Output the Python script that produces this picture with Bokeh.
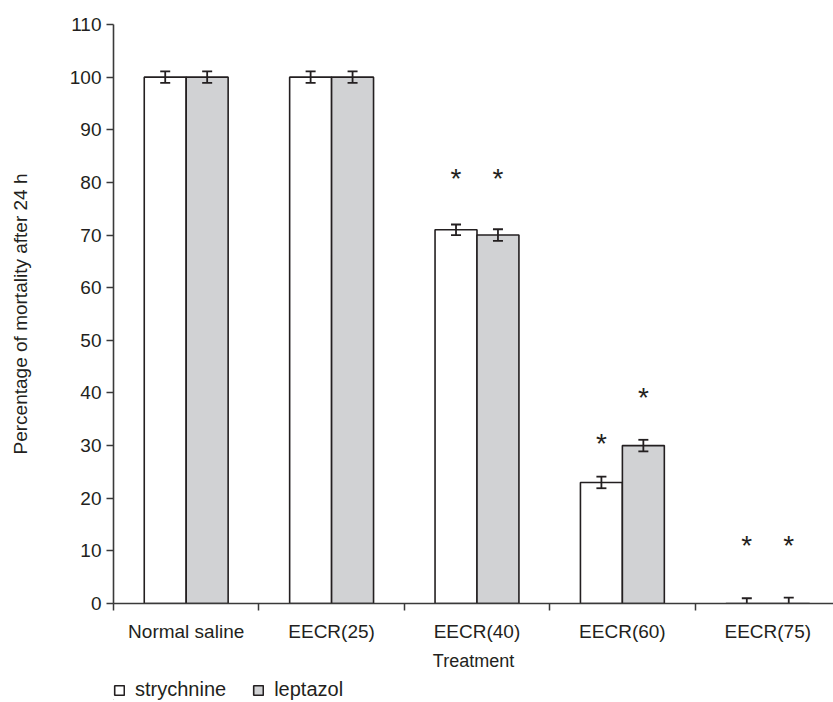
import numpy as np
from bokeh.plotting import figure
from bokeh.layouts import column
from bokeh.models import Range1d, FixedTicker, Legend, LegendItem, ColumnDataSource
from bokeh.core.properties import value
from bokeh.embed import file_html
from bokeh.resources import INLINE

# ---- data ----
categories = ["Normal saline", "EECR(25)", "EECR(40)", "EECR(60)", "EECR(75)"]
strychnine = [100, 100, 71, 23, 0]
leptazol = [100, 100, 70, 30, 0]
strychnine_err = [1.1, 1.1, 1.0, 1.1, 1.0]
leptazol_err = [1.1, 1.1, 1.1, 1.1, 1.1]
# significance asterisks (value where the star is drawn; nan = none)
strychnine_star = [np.nan, np.nan, 81.2, 30.8, 11.4]
leptazol_star = [np.nan, np.nan, 81.2, 39.5, 11.4]
y_ticks = list(range(0, 111, 10))
series_names = ["strychnine", "leptazol"]

FONT = "Liberation Sans"
TXT = "#231f20"
AX = "#3a3a3a"
GRAY = "#d1d2d4"
BW = 0.2885

centers = np.arange(len(categories)) + 0.5
xs = centers - BW / 2
xl = centers + BW / 2

p = figure(width=833, height=678, output_backend="svg", toolbar_location=None,
           x_range=Range1d(0, 4.952), y_range=Range1d(0, 110),
           min_border_left=112, min_border_right=0, min_border_top=24,
           min_border_bottom=75)
p.outline_line_color = None
p.xgrid.visible = False
p.ygrid.visible = False

rs = p.vbar(x=xs, top=strychnine, bottom=0, width=BW, fill_color="white",
            line_color=TXT, line_width=1.6)
rl = p.vbar(x=xl, top=leptazol, bottom=0, width=BW, fill_color=GRAY,
            line_color=TXT, line_width=1.6)

# error bars
for x, v, e in ((xs, strychnine, strychnine_err), (xl, leptazol, leptazol_err)):
    v = np.array(v, dtype=float)
    e = np.array(e, dtype=float)
    p.segment(x0=x, x1=x, y0=v - e, y1=v + e, line_color=TXT, line_width=1.8)
    p.scatter(x=np.concatenate([x, x]), y=np.concatenate([v - e, v + e]),
              marker="dash", size=10, line_color=TXT, line_width=1.8)

# asterisks
for x, s in ((xs, strychnine_star), (xl, leptazol_star)):
    s = np.array(s, dtype=float)
    m = ~np.isnan(s)
    src = ColumnDataSource(dict(x=x[m], y=s[m], t=["*"] * int(m.sum())))
    p.text(x="x", y="y", text="t", source=src, text_font=value(FONT),
           text_font_size="28px", text_align="center", text_baseline="middle",
           y_offset=2, text_color=TXT)

# y axis
ya = p.yaxis[0]
ya.ticker = FixedTicker(ticks=y_ticks)
ya.axis_line_color = AX
ya.axis_line_width = 1.6
ya.major_tick_line_color = AX
ya.major_tick_line_width = 1.5
ya.major_tick_in = 0
ya.major_tick_out = 7
ya.minor_tick_line_color = None
ya.major_label_text_font = FONT
ya.major_label_text_font_size = "19px"
ya.major_label_text_color = TXT
ya.major_label_standoff = 5
ya.axis_label = "Percentage of mortality after 24 h"
ya.axis_label_text_font = FONT
ya.axis_label_text_font_size = "19px"
ya.axis_label_text_font_style = "normal"
ya.axis_label_text_color = TXT
ya.axis_label_standoff = 36

# x axis
xa = p.xaxis[0]
xa.ticker = FixedTicker(ticks=list(centers), minor_ticks=list(range(len(categories) + 1)))
xa.major_label_overrides = {float(c): n for c, n in zip(centers, categories)}
xa.axis_line_color = AX
xa.axis_line_width = 1.6
xa.major_tick_line_color = None
xa.major_tick_in = 0
xa.major_tick_out = 0
xa.minor_tick_line_color = AX
xa.minor_tick_line_width = 1.5
xa.minor_tick_in = 0
xa.minor_tick_out = 7
xa.major_label_text_font = FONT
xa.major_label_text_font_size = "19px"
xa.major_label_text_color = TXT
xa.major_label_standoff = 10
xa.axis_label = "Treatment"
xa.axis_label_text_font = FONT
xa.axis_label_text_font_size = "18px"
xa.axis_label_text_font_style = "normal"
xa.axis_label_text_color = TXT
xa.axis_label_standoff = 6

# legend strip below the chart (legend keys come from off-range proxy bars)
p2 = figure(width=833, height=22, output_backend="svg", toolbar_location=None,
            x_range=Range1d(0, 1), y_range=Range1d(0, 1),
            x_axis_location=None, y_axis_location=None,
            min_border_left=113, min_border_right=0, min_border_top=0,
            min_border_bottom=0)
p2.outline_line_color = None
p2.xgrid.visible = False
p2.ygrid.visible = False
ls = p2.vbar(x=[-5], top=[-5], bottom=[-6], width=1, fill_color="white",
             line_color=TXT, line_width=1.6)
ll = p2.vbar(x=[-5], top=[-5], bottom=[-6], width=1, fill_color=GRAY,
             line_color=TXT, line_width=1.6)
legend = Legend(items=[LegendItem(label=series_names[0], renderers=[ls]),
                       LegendItem(label=series_names[1], renderers=[ll])],
                orientation="horizontal", location="top_left")
legend.border_line_color = None
legend.background_fill_alpha = 0
legend.padding = 0
legend.margin = 0
legend.spacing = 26
legend.label_standoff = 10
legend.glyph_width = 12
legend.glyph_height = 12
legend.label_text_font = FONT
legend.label_text_font_size = "20px"
legend.label_text_color = TXT
legend.label_height = 20
p2.add_layout(legend, "center")

open("out.html", "w").write(file_html(column(p, p2, spacing=0), INLINE))
